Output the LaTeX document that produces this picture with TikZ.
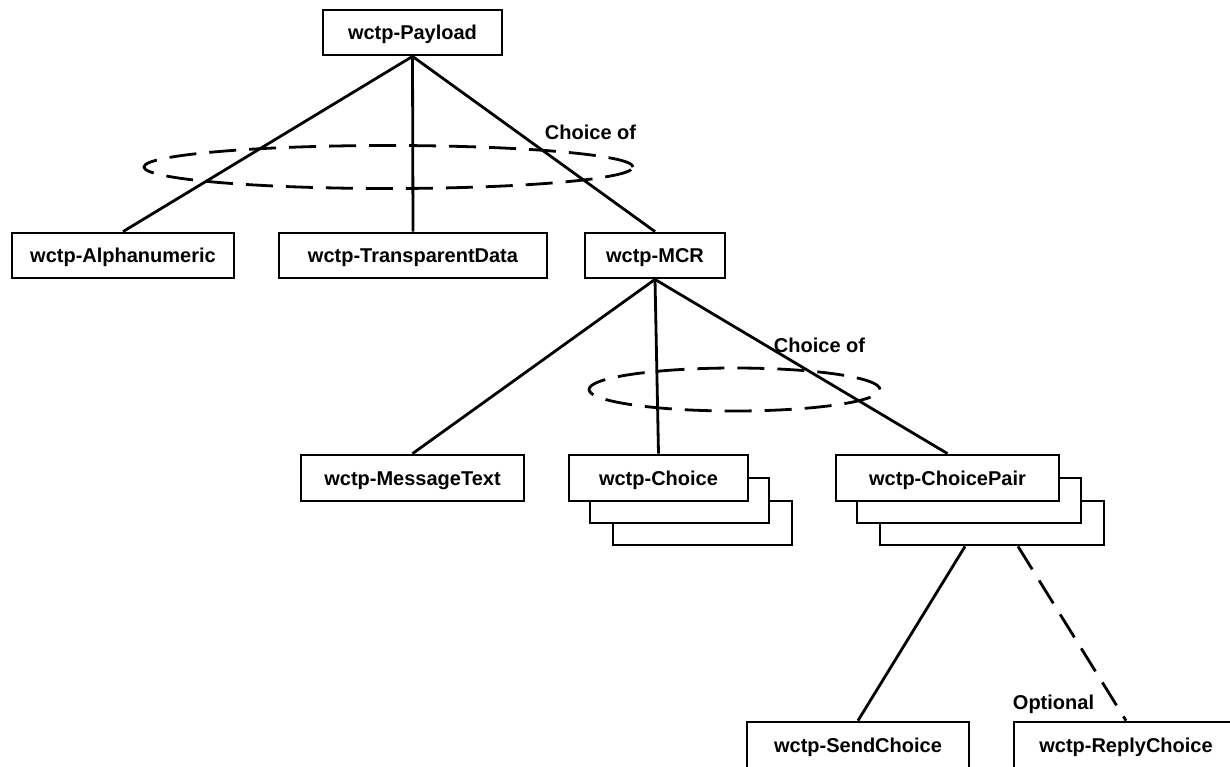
\documentclass[tikz,border=0pt]{standalone}
\usepackage{fontspec}
\setmainfont{Liberation Sans}
\begin{document}
\begin{tikzpicture}[x=1pt,y=-1pt, line width=2.8pt,
  box/.style={draw, fill=white, minimum height=45pt, inner sep=0pt,
    text height=14.5pt, text depth=0pt,
    font=\fontsize{20}{24}\selectfont\bfseries, line width=2.8pt},
  lbl/.style={font=\fontsize{20}{24}\selectfont\bfseries, inner sep=0pt,
    text height=14.5pt, text depth=0pt},
  dsh/.style={dash pattern=on 27pt off 13pt}]
\useasboundingbox (0,0) rectangle (1230,766);
\clip (0,0) rectangle (1230,766);

% level 0 / 1
\node[box, minimum width=179pt] (pay) at (412.5,32.5) {wctp-Payload\hspace{6pt}};
\node[box, minimum width=222pt] (alpha) at (123,255.5) {wctp-Alphanumeric\hspace{8pt}};
\node[box, minimum width=268pt] (trans) at (413,255.5) {wctp-TransparentData\hspace{8pt}};
\node[box, minimum width=140pt] (mcr) at (655,255.5) {wctp-MCR};

% level 2
\node[box, minimum width=223pt, minimum height=46pt] (msg) at (412.5,478) {wctp-MessageText\hspace{8pt}};
\node[box, minimum width=179pt, minimum height=44pt] (ch3) at (702.5,523) {};
\node[box, minimum width=179pt, minimum height=45pt] (ch2) at (679.5,500.5) {};
\node[box, minimum width=179pt, minimum height=46pt] (ch) at (658.5,478) {wctp-Choice\hspace{8pt}};
\node[box, minimum width=224pt, minimum height=44pt] (cp3) at (992,523) {};
\node[box, minimum width=224pt, minimum height=45pt] (cp2) at (969,500.5) {};
\node[box, minimum width=223pt, minimum height=46pt] (cp) at (947.5,478) {wctp-ChoicePair\hspace{8pt}};

% level 3
\node[box, minimum width=222pt, minimum height=46pt] (send) at (858,745) {wctp-SendChoice};
\node[box, minimum width=224pt, minimum height=46pt] (reply) at (1126,745) {wctp-ReplyChoice\hspace{8pt}};

% connectors
\draw (pay.south) -- (alpha.north);
\draw (pay.south) -- (trans.north);
\draw (pay.south) -- (mcr.north);
\draw (mcr.south) -- (msg.north);
\draw (mcr.south) -- (ch.north);
\draw (mcr.south) -- (cp.north);
\draw ([xshift=-27pt]cp3.south) -- (send.north);
\draw[dsh] ([xshift=26pt]cp3.south) -- (reply.north);

% choice ellipses
\draw[dsh] (388.5,167) ellipse [x radius=244.5pt, y radius=21.5pt];
\draw[dsh] (734.5,389.5) ellipse [x radius=145.5pt, y radius=21.5pt];

% labels
\node[lbl] (c1) at (590.5,132) {Choice of};
\node[lbl] (c2) at (819.5,345) {Choice of};
\node[lbl] (opt) at (1053.5,702) {Optional};
\end{tikzpicture}
\end{document}
